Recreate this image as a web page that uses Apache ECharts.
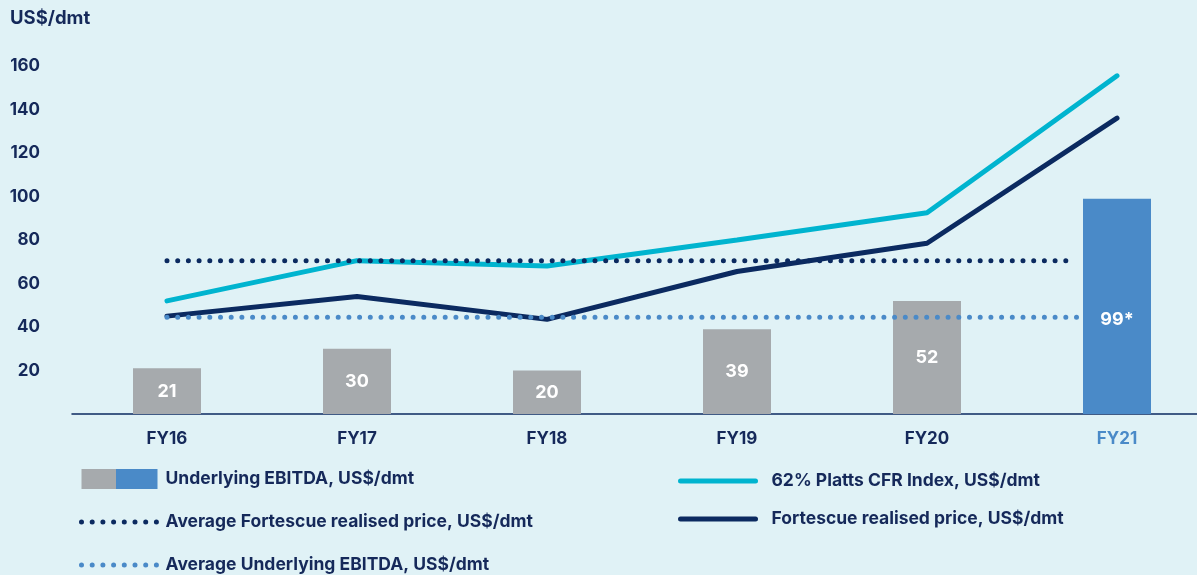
<!DOCTYPE html>
<html>
<head>
<meta charset="utf-8">
<script src="https://cdn.jsdelivr.net/npm/echarts@6/dist/echarts.min.js"></script>
<style>
  html, body { margin: 0; padding: 0; background: #e0f2f6; overflow: hidden; }
  /* wider than the window: the last band runs past the right edge */
  #chart { width: 1212px; height: 575px; }
</style>
</head>
<body>
<div id="chart"></div>
<script>
const years = ['FY16', 'FY17', 'FY18', 'FY19', 'FY20', 'FY21'];
const ebitda = [21, 30, 20, 39, 52, 99];
const ebitdaLabels = ['21', '30', '20', '39', '52', '99*'];
const plattsIndex = [52, 70.5, 68, 80, 92.5, 155.5];
const realisedPrice = [45, 54, 43.5, 65.5, 78.5, 136];
const avgRealisedPrice = 70.5;
const avgEbitda = 44.5;
// averages run from FY16 to just before the FY21 bar (category units)
const avgRealisedSpan = [0, 4.76];
const avgEbitdaSpan = [0, 4.82];
const yTicks = [20, 40, 60, 80, 100, 120, 140, 160];

const NAVY = '#0b2a60';
const TEXT = '#15295a';
const CYAN = '#00b4cf';
const GREY = '#a6aaad';
const BLUE = '#4a8ac8';
const LIGHT_BLUE = '#4a8ac8';
const FONT = 'Inter, "Noto Sans", sans-serif';

const names = {
  bar: 'Underlying EBITDA, US$/dmt',
  avgPrice: 'Average Fortescue realised price, US$/dmt',
  avgEbitda: 'Average Underlying EBITDA, US$/dmt',
  platts: '62% Platts CFR Index, US$/dmt',
  price: 'Fortescue realised price, US$/dmt',
};

const legendText = {
  fontFamily: FONT,
  fontSize: 17.5,
  fontWeight: 'bold',
  color: TEXT,
  lineHeight: 20,
};

const dotted = { width: 5, type: [0, 10.7], cap: 'round' };
const hideSymbol = { opacity: 0 };

const myChart = echarts.init(document.getElementById('chart'));

const option = {
  backgroundColor: '#e0f2f6',
  animation: false,
  title: {
    text: 'US$/dmt',
    left: 10,
    top: 9,
    padding: 0,
    textStyle: { fontFamily: FONT, fontSize: 18.5, fontWeight: 'bold', color: TEXT },
  },
  grid: {
    left: 72,
    right: 0,
    top: 66,
    bottom: 161,
  },
  legend: [
    {
      left: 79,
      top: 469,
      height: 120,
      padding: 0,
      orient: 'vertical',
      itemWidth: 76,
      itemHeight: 20,
      itemGap: 23,
      textStyle: { ...legendText, padding: [0, 0, 0, 3] },
      data: [
        {
          name: names.bar,
          icon: 'rect',
          itemStyle: {
            color: {
              type: 'linear', x: 0, y: 0, x2: 1, y2: 0,
              colorStops: [
                { offset: 0, color: GREY },
                { offset: 0.46, color: GREY },
                { offset: 0.46, color: BLUE },
                { offset: 1, color: BLUE },
              ],
            },
          },
        },
        { name: names.avgPrice, itemStyle: hideSymbol, lineStyle: { ...dotted, color: NAVY } },
        { name: names.avgEbitda, itemStyle: hideSymbol, lineStyle: { ...dotted, color: LIGHT_BLUE } },
      ],
    },
    {
      left: 678,
      top: 471,
      height: 120,
      padding: 0,
      orient: 'vertical',
      itemWidth: 75,
      itemHeight: 20,
      itemGap: 18,
      textStyle: { ...legendText, padding: [0, 0, 0, 11] },
      data: [
        { name: names.platts, itemStyle: hideSymbol, lineStyle: { width: 5, cap: 'round', color: CYAN } },
        { name: names.price, itemStyle: hideSymbol, lineStyle: { width: 5, cap: 'round', color: NAVY } },
      ],
    },
  ],
  xAxis: [
    {
      type: 'category',
      data: years,
      axisLine: { lineStyle: { color: NAVY, width: 1.5 } },
      axisTick: { show: false },
      axisLabel: {
        margin: 16,
        fontFamily: FONT,
        fontSize: 17,
        fontWeight: 'bold',
        color: (value) => (value === 'FY21' ? BLUE : TEXT),
      },
    },
    {
      type: 'value',
      min: -0.5,
      max: 5.5,
      show: false,
    },
  ],
  yAxis: {
    type: 'value',
    min: 0,
    max: 160,
    interval: 20,
    axisLine: { show: false },
    axisTick: { show: false },
    splitLine: { show: false },
    axisLabel: {
      margin: 32,
      align: 'right',
      fontFamily: FONT,
      fontSize: 17,
      fontWeight: 'bold',
      color: TEXT,
      formatter: (v) => (yTicks.includes(v) ? String(v) : ''),
    },
  },
  series: [
    {
      name: names.bar,
      type: 'bar',
      barWidth: 68,
      z: 1,
      itemStyle: { color: GREY },
      label: {
        show: true,
        position: 'inside',
        fontFamily: FONT,
        fontSize: 18,
        fontWeight: 'bold',
        color: '#ffffff',
        formatter: (p) => ebitdaLabels[p.dataIndex],
      },
      data: ebitda.map((v, i) => (
        years[i] === 'FY21'
          ? { value: v, itemStyle: { color: BLUE }, label: { offset: [0, 13] } }
          : v
      )),
    },
    {
      name: names.platts,
      type: 'line',
      symbol: 'none',
      z: 3,
      lineStyle: { color: CYAN, width: 5, cap: 'round' },
      itemStyle: { color: CYAN },
      data: plattsIndex,
    },
    {
      name: names.price,
      type: 'line',
      symbol: 'none',
      z: 3,
      lineStyle: { color: NAVY, width: 5, cap: 'round' },
      itemStyle: { color: NAVY },
      data: realisedPrice,
    },
    {
      name: names.avgPrice,
      type: 'line',
      xAxisIndex: 1,
      symbol: 'none',
      z: 4,
      lineStyle: { ...dotted, color: NAVY },
      itemStyle: { color: NAVY },
      data: avgRealisedSpan.map((x) => [x, avgRealisedPrice]),
    },
    {
      name: names.avgEbitda,
      type: 'line',
      xAxisIndex: 1,
      symbol: 'none',
      z: 4,
      lineStyle: { ...dotted, color: LIGHT_BLUE },
      itemStyle: { color: LIGHT_BLUE },
      data: avgEbitdaSpan.map((x) => [x, avgEbitda]),
    },
  ],
};

myChart.setOption(option);
window.addEventListener('resize', () => myChart.resize());
</script>
</body>
</html>
